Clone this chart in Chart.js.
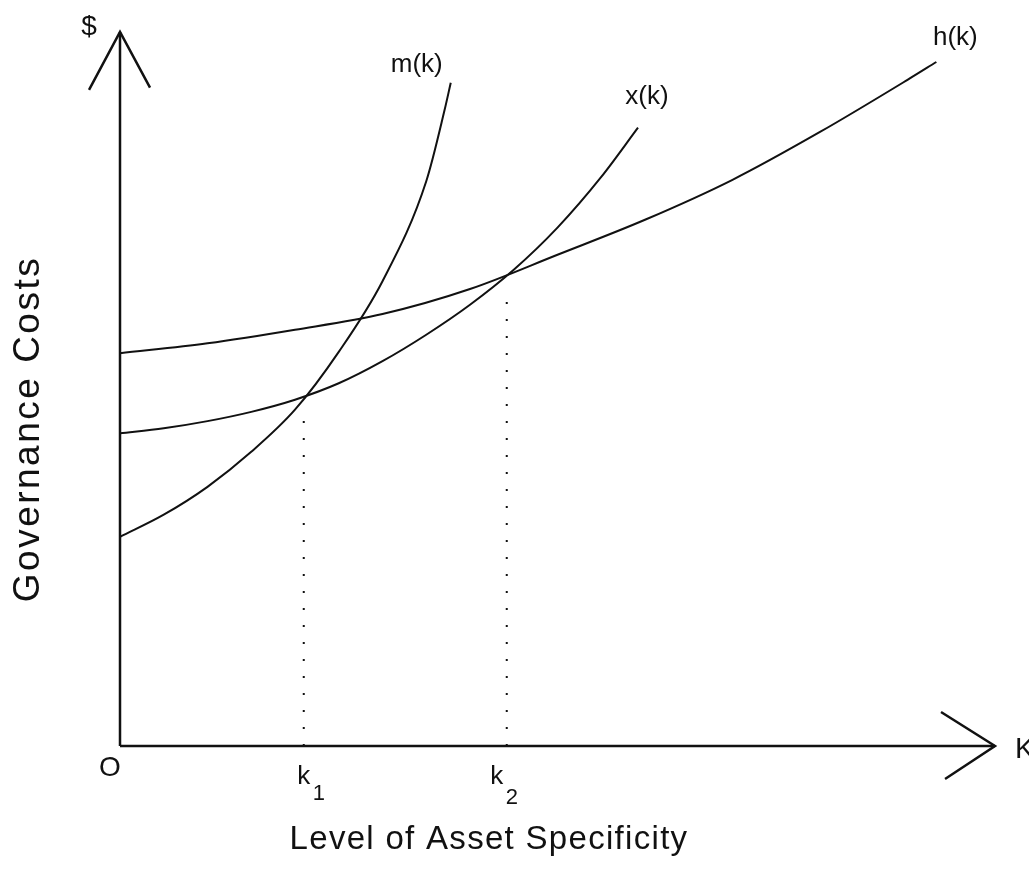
<!DOCTYPE html>
<html>
<head>
<meta charset="utf-8">
<title>Governance Costs</title>
<script src="https://cdn.jsdelivr.net/npm/chart.js@4/dist/chart.umd.min.js"></script>
<style>
  html, body { margin: 0; padding: 0; background: #fff; overflow: hidden; }
  canvas { display: block; }
</style>
</head>
<body>
<canvas id="chart" width="1029" height="875"></canvas>
<script>
// values (k = asset specificity, cost in arbitrary units 0..10)
const mK    = [0, 0.5, 1.0, 1.5, 2.0, 2.5, 3.0, 3.5, 3.71, 3.78];
const mCost = [2.93, 3.24, 3.63, 4.12, 4.71, 5.52, 6.51, 7.91, 8.91, 9.29];

const xK    = [0, 0.5, 1.0, 1.5, 2.0, 2.5, 3.0, 3.5, 4.0, 4.5, 5.0, 5.5, 5.92];
const xCost = [4.38, 4.45, 4.55, 4.68, 4.85, 5.08, 5.39, 5.76, 6.18, 6.67, 7.26, 7.97, 8.66];

const hK    = [0, 1, 2, 3, 4, 5, 6, 7, 8, 9, 9.33];
const hCost = [5.50, 5.64, 5.83, 6.05, 6.40, 6.88, 7.37, 7.93, 8.60, 9.33, 9.58];

// crossover points and how far the dotted guides reach
const kMarks  = [2.10, 4.42];
const kTops   = [4.6, 6.3];
const kLabels = ['1', '2'];

const axisMax = 10;

const INK = '#111';

function pts(xs, ys) {
  return xs.map((v, i) => ({ x: v, y: ys[i] }));
}

function curve(xs, ys) {
  return {
    data: pts(xs, ys),
    borderColor: INK,
    borderWidth: 2,
    showLine: true,
    pointRadius: 0,
    cubicInterpolationMode: 'monotone',
    clip: false
  };
}

function straight(points, width, dash) {
  return {
    data: points,
    borderColor: INK,
    borderWidth: width,
    borderDash: dash || [],
    showLine: true,
    pointRadius: 0,
    tension: 0,
    clip: false
  };
}

const datasets = [
  // axes with open arrow heads
  straight([{ x: 0, y: 0 }, { x: 0, y: axisMax }], 2.5),
  straight([{ x: -0.354, y: 9.19 }, { x: 0, y: axisMax }, { x: 0.343, y: 9.22 }], 2.5),
  straight([{ x: 0, y: 0 }, { x: axisMax, y: 0 }], 2.5),
  straight([{ x: 9.383, y: 0.476 }, { x: axisMax, y: 0 }, { x: 9.429, y: -0.462 }], 2.5),
  // dotted guides at k1, k2
  ...kMarks.map((k, i) => straight([{ x: k, y: 0 }, { x: k, y: kTops[i] }], 2, [2, 15])),
  curve(mK, mCost),
  curve(xK, xCost),
  curve(hK, hCost)
];

const labelPlugin = {
  id: 'labels',
  afterDraw(chart) {
    const { ctx, scales: { x, y } } = chart;
    const px = v => x.getPixelForValue(v);
    const py = v => y.getPixelForValue(v);
    ctx.save();
    ctx.fillStyle = INK;
    ctx.textAlign = 'center';
    ctx.textBaseline = 'middle';

    const text = (s, cx, cy, size) => {
      ctx.font = size + 'px "Liberation Sans", Arial, sans-serif';
      ctx.fillText(s, cx, cy);
    };

    // curve names next to their ends
    text('m(k)', px(mK[mK.length - 1]) - 34, py(mCost[mCost.length - 1]) - 18, 26);
    text('x(k)', px(xK[xK.length - 1]) + 9, py(xCost[xCost.length - 1]) - 31, 26);
    text('h(k)', px(hK[hK.length - 1]) + 19, py(hCost[hCost.length - 1]) - 24, 26);

    // axis ends and origin
    text('$', px(0) - 31, py(axisMax) - 5, 28);
    text('O', px(0) - 10, py(0) + 22, 28);
    ctx.textAlign = 'left';
    text('K', px(axisMax) + 20, py(0) + 4, 29);
    ctx.textAlign = 'center';

    // k1, k2 with subscripts
    kMarks.forEach((k, i) => {
      const off = i === 0 ? 0 : -10;
      text('k', px(k) + off, py(0) + 31, 26);
      text(kLabels[i], px(k) + off + 15, py(0) + 48 + i * 4, 22);
    });

    // axis titles
    ctx.letterSpacing = '1.3px';
    text('Level of Asset Specificity', 489, 840, 33);

    ctx.save();
    ctx.translate(29, 429);
    ctx.rotate(-Math.PI / 2);
    ctx.letterSpacing = '2.5px';
    text('Governance Costs', 0, 0, 37);
    ctx.restore();

    ctx.restore();
  }
};

new Chart(document.getElementById('chart'), {
  type: 'scatter',
  data: { datasets },
  options: {
    responsive: false,
    animation: false,
    devicePixelRatio: 1,
    layout: { padding: { left: 120, right: 34, top: 32, bottom: 129 } },
    plugins: {
      legend: { display: false },
      tooltip: { enabled: false }
    },
    scales: {
      x: { type: 'linear', min: 0, max: axisMax, display: false },
      y: { type: 'linear', min: 0, max: axisMax, display: false }
    }
  },
  plugins: [labelPlugin]
});
</script>
</body>
</html>
